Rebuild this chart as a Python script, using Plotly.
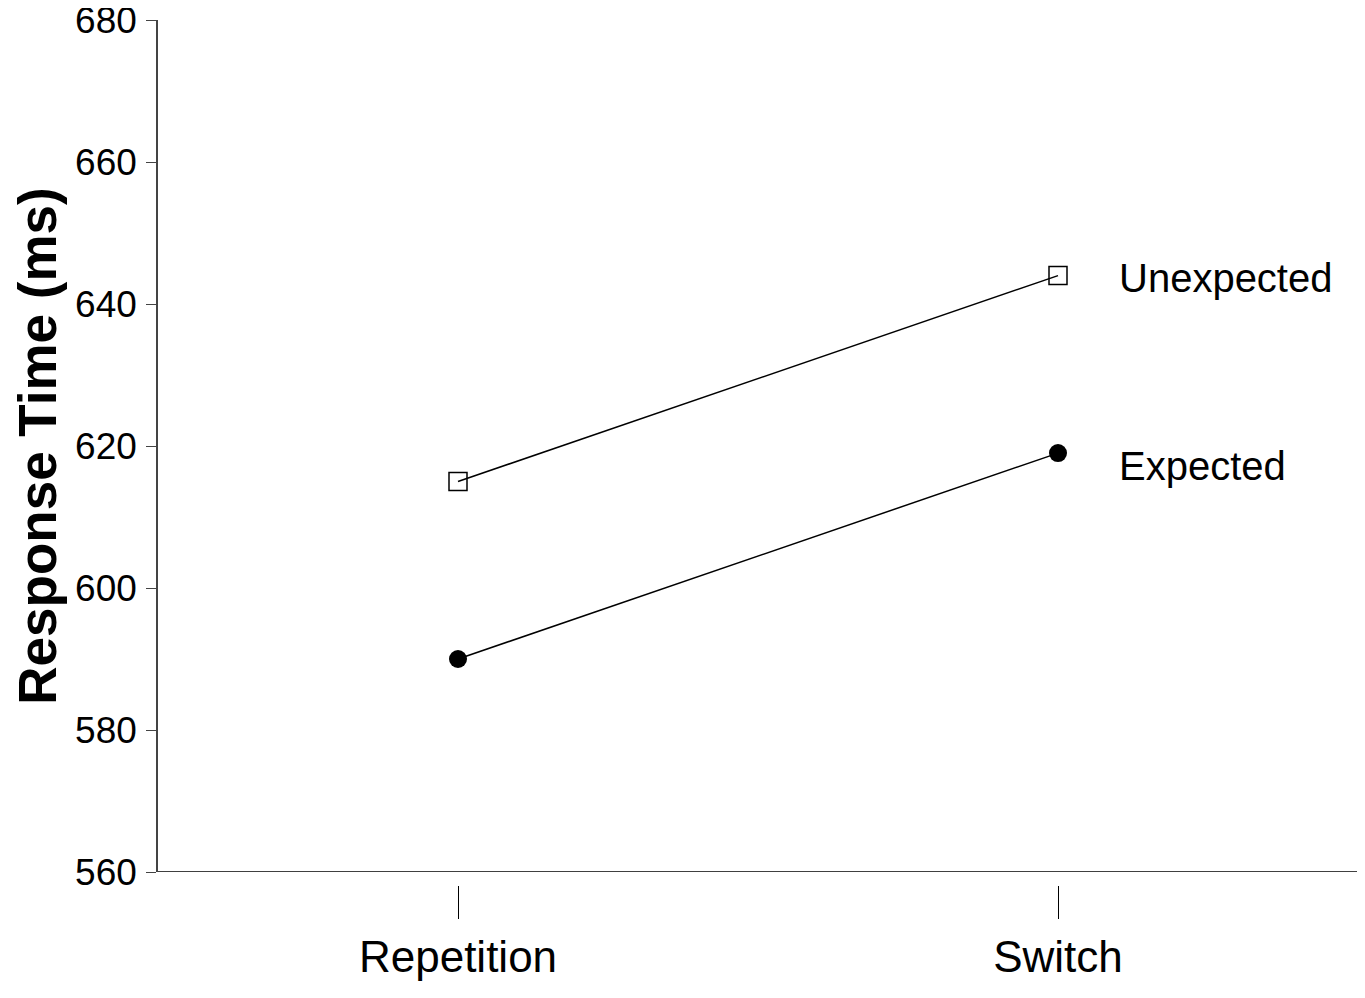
import plotly.graph_objects as go

categories = ["Repetition", "Switch"]
unexpected = [615, 644]
expected = [590, 619]
series_names = ["Unexpected", "Expected"]
y_ticks = [560, 580, 600, 620, 640, 660, 680]
y_range = [560, 680]

FONT = "Liberation Sans, Arial, Helvetica, sans-serif"

fig = go.Figure()
fig.add_trace(go.Scatter(
    x=categories, y=unexpected, mode="lines+markers", name=series_names[0],
    line=dict(color="black", width=1.5),
    marker=dict(symbol="square-open", size=18, color="black", line=dict(width=1.5)),
))
fig.add_trace(go.Scatter(
    x=categories, y=expected, mode="lines+markers", name=series_names[1],
    line=dict(color="black", width=1.5),
    marker=dict(symbol="circle", size=18, color="black"),
))

fig.add_annotation(x=categories[-1], y=unexpected[-1], text=series_names[0],
                   xanchor="left", yanchor="middle", xshift=59, yshift=-2, showarrow=False,
                   font=dict(family=FONT, size=40, color="black"))
fig.add_annotation(x=categories[-1], y=expected[-1], text=series_names[1],
                   xanchor="left", yanchor="middle", xshift=59, yshift=-13, showarrow=False,
                   font=dict(family=FONT, size=40, color="black"))

fig.add_shape(type="line", xref="paper", x0=0, x1=1, yref="y", y0=y_range[0], y1=y_range[0],
              line=dict(color="black", width=1.5))

fig.update_layout(
    width=1357, height=990,
    margin=dict(l=150, r=7, t=12, b=113),
    paper_bgcolor="white", plot_bgcolor="white",
    showlegend=False,
    xaxis=dict(
        type="category", range=[-0.5, 1.5], automargin=False,
        anchor="free", position=0,
        showline=False, showgrid=False, zeroline=False,
        ticks="outside", ticklen=33, tickwidth=1.2, tickcolor="black",
        ticklabelstandoff=0,
        tickfont=dict(family=FONT, size=44, color="black"),
    ),
    yaxis=dict(
        domain=[0.01503, 1], range=y_range, tickvals=y_ticks, automargin=False,
        showline=True, linecolor="#444", linewidth=1.5,
        showgrid=False, zeroline=False,
        ticks="outside", ticklen=10, tickwidth=1.2, tickcolor="#444",
        ticklabelstandoff=2, ticklabeloverflow="allow",
        tickfont=dict(family=FONT, size=37, color="black"),
        title=dict(text="Response Time (ms)", standoff=24,
                   font=dict(family=FONT, size=53, color="black", weight="bold")),
    ),
)

fig.write_html("out.html")
